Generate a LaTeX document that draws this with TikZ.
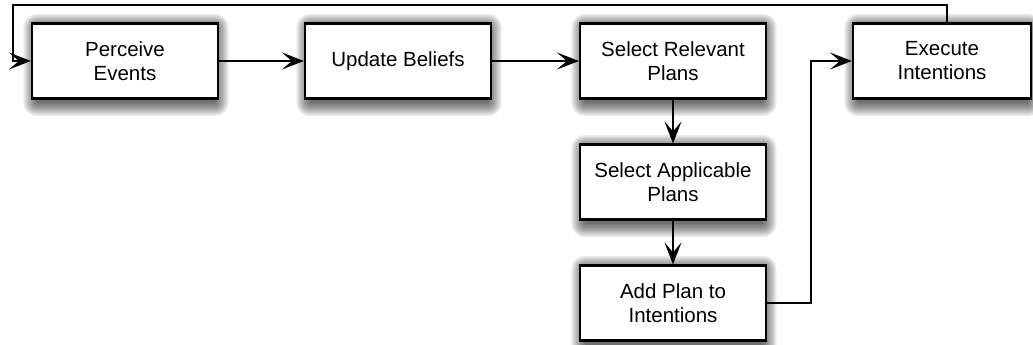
\documentclass[tikz,border=0pt]{standalone}
\usepackage{fontspec}
\setmainfont{Liberation Sans}
\usetikzlibrary{arrows.meta,backgrounds}
\tikzset{
  stepbox/.style={draw=black, line width=2.2pt, fill=white, minimum width=186pt, minimum height=75pt,
    align=center, inner sep=0pt, font=\fontsize{20.5}{24}\selectfont},
  flow/.style={draw=black, line width=1.8pt, -{Stealth[length=22pt, width=17pt, inset=10pt]}},
  softshadow/.style={fill=black, fill opacity=0.08, draw=none},
}
\begin{document}
\begin{tikzpicture}[x=1pt, y=-1pt]
  \useasboundingbox (0,0) rectangle (1033,345);
  \node[stepbox] (perceive) at (125,61) {Perceive\\Events};
  \node[stepbox] (beliefs) at (398,61) {Update Beliefs};
  \node[stepbox] (relevant) at (673,61) {Select Relevant\\Plans};
  \node[stepbox, minimum width=178pt] (execute) at (942,61) {Execute\\Intentions};
  \node[stepbox] (applicable) at (673,182) {Select Applicable\\Plans};
  \node[stepbox] (add) at (673,303) {Add Plan to\\Intentions};
  \coordinate (top) at (947,5);
  \coordinate (corner) at (811,61);

  % soft drop shadows under every box, built from stacked translucent layers
  \begin{scope}[on background layer]
    \foreach \n in {perceive,beliefs,relevant,execute,applicable,add}{
      \foreach \e in {0,1.5,...,13.5}{
        \fill[softshadow, rounded corners=\e pt]
          ([xshift=6pt-\e pt, yshift=-5pt+\e pt]\n.north west)
          rectangle ([xshift=-4pt+\e pt, yshift=-3pt-\e pt]\n.south east);
      }
    }
  \end{scope}

  \draw[flow] (perceive) -- (beliefs);
  \draw[flow] (beliefs) -- (relevant);
  \draw[flow] (relevant) -- (applicable);
  \draw[flow] (applicable) -- (add);
  \draw[flow] (add.east) -| (corner) -- (execute.west);
  \draw[flow] (execute.north -| top) |- (13,5) |- (perceive.west);
\end{tikzpicture}
\end{document}
